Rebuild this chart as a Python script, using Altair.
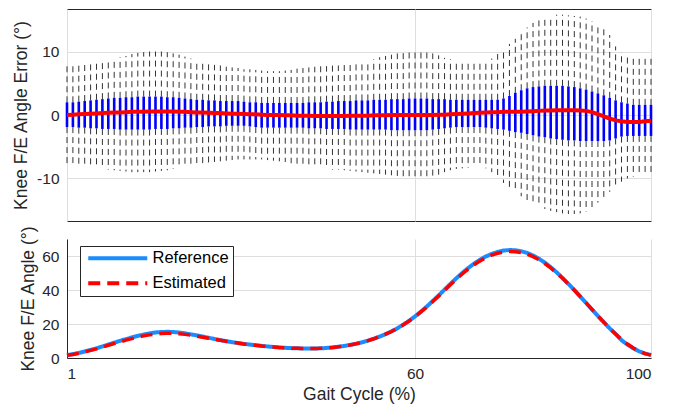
import altair as alt
import pandas as pd

gait_cycle = list(range(1, 101))

err_median = [0.0, 0.05, 0.1, 0.15, 0.2, 0.25, 0.3, 0.35, 0.4, 0.4,
              0.45, 0.5, 0.5, 0.5, 0.55, 0.55, 0.55, 0.55, 0.55, 0.5,
              0.5, 0.45, 0.4, 0.4, 0.35, 0.3, 0.3, 0.25, 0.2, 0.2,
              0.15, 0.1, 0.1, 0.05, 0.0, 0.0, 0.0, -0.05, -0.05, -0.1,
              -0.1, -0.1, -0.15, -0.15, -0.15, -0.15, -0.15, -0.15, -0.1, -0.1,
              -0.1, -0.1, -0.05, -0.05, -0.05, 0.0, 0.0, 0.0, 0.0, 0.0,
              0.0, 0.0, 0.0, 0.05, 0.05, 0.1, 0.15, 0.2, 0.25, 0.3,
              0.35, 0.4, 0.45, 0.45, 0.5, 0.5, 0.5, 0.5, 0.55, 0.6,
              0.65, 0.7, 0.7, 0.75, 0.75, 0.75, 0.75, 0.7, 0.65, 0.45,
              0.15, -0.2, -0.55, -0.85, -1.0, -1.1, -1.1, -1.1, -1.0, -0.9]

err_q3 = [2.0, 2.0, 2.1, 2.2, 2.3, 2.4, 2.5, 2.6, 2.7, 2.7,
          2.8, 2.8, 2.9, 2.9, 2.9, 2.9, 2.9, 2.8, 2.8, 2.7,
          2.6, 2.5, 2.4, 2.4, 2.3, 2.3, 2.2, 2.2, 2.2, 2.2,
          2.1, 2.0, 2.0, 1.9, 1.9, 1.9, 1.9, 1.9, 1.9, 1.9,
          1.9, 2.0, 2.0, 2.0, 2.1, 2.1, 2.2, 2.2, 2.2, 2.3,
          2.3, 2.3, 2.4, 2.4, 2.4, 2.5, 2.5, 2.5, 2.6, 2.6,
          2.6, 2.6, 2.5, 2.5, 2.5, 2.4, 2.4, 2.4, 2.4, 2.4,
          2.4, 2.4, 2.4, 2.4, 2.6, 3.0, 3.5, 3.9, 4.2, 4.4,
          4.5, 4.6, 4.6, 4.6, 4.6, 4.5, 4.4, 4.2, 4.0, 3.7,
          3.4, 3.1, 2.7, 2.3, 2.0, 1.8, 1.6, 1.6, 1.6, 1.6]

err_q1 = [-1.9, -1.9, -2.0, -2.0, -2.1, -2.1, -2.2, -2.2, -2.2, -2.3,
          -2.3, -2.3, -2.3, -2.3, -2.3, -2.2, -2.2, -2.2, -2.1, -2.1,
          -2.0, -2.0, -1.9, -1.9, -1.8, -1.8, -1.8, -1.7, -1.7, -1.7,
          -1.7, -1.8, -1.9, -2.0, -2.0, -2.0, -2.0, -2.0, -2.0, -2.0,
          -2.0, -2.1, -2.1, -2.1, -2.2, -2.2, -2.2, -2.2, -2.3, -2.3,
          -2.3, -2.3, -2.3, -2.3, -2.3, -2.4, -2.4, -2.4, -2.4, -2.4,
          -2.4, -2.4, -2.3, -2.2, -2.1, -2.0, -1.9, -1.9, -1.9, -1.9,
          -1.9, -2.0, -2.1, -2.2, -2.3, -2.5, -2.7, -2.8, -3.0, -3.2,
          -3.4, -3.5, -3.7, -3.8, -3.9, -4.0, -4.0, -4.1, -4.1, -4.1,
          -4.1, -4.1, -4.0, -3.7, -3.4, -3.3, -3.3, -3.3, -3.3, -3.3]

err_hi = [7.7, 7.7, 7.8, 7.9, 8.0, 8.1, 8.3, 8.5, 8.8, 9.1,
          9.3, 9.6, 9.8, 9.9, 10.0, 10.0, 10.0, 9.9, 9.7, 9.5,
          9.2, 8.9, 8.6, 8.3, 8.1, 7.9, 7.8, 7.6, 7.5, 7.4,
          7.2, 7.2, 7.1, 7.0, 6.9, 6.9, 6.9, 7.0, 7.1, 7.3,
          7.4, 7.5, 7.6, 7.7, 7.7, 7.8, 7.8, 7.9, 8.0, 8.2,
          8.4, 8.6, 8.8, 9.1, 9.3, 9.5, 9.7, 9.9, 10.0, 10.1,
          10.1, 10.0, 9.7, 9.4, 9.0, 8.8, 8.7, 8.6, 8.5, 8.4,
          8.3, 8.4, 8.9, 9.6, 10.4, 11.2, 12.0, 12.9, 13.8, 14.5,
          15.1, 15.4, 15.6, 15.8, 15.8, 15.7, 15.6, 15.5, 15.2, 14.8,
          14.2, 13.5, 12.6, 10.8, 9.9, 9.3, 9.1, 9.0, 9.1, 9.2]

err_lo = [-8.0, -8.0, -8.1, -8.2, -8.3, -8.4, -8.5, -8.6, -8.7, -8.8,
          -8.9, -9.0, -9.0, -9.0, -9.0, -8.9, -8.8, -8.7, -8.5, -8.3,
          -8.1, -7.9, -7.7, -7.6, -7.5, -7.4, -7.3, -7.2, -7.1, -7.0,
          -7.0, -7.0, -7.0, -7.0, -7.1, -7.2, -7.3, -7.4, -7.6, -7.8,
          -8.0, -8.2, -8.3, -8.4, -8.5, -8.6, -8.6, -8.7, -8.8, -8.9,
          -9.0, -9.1, -9.2, -9.3, -9.4, -9.5, -9.6, -9.7, -9.8, -9.9,
          -10.0, -9.9, -9.7, -9.4, -9.0, -8.7, -8.5, -8.4, -8.3, -8.2,
          -8.2, -8.4, -9.0, -9.8, -10.7, -11.4, -12.1, -12.8, -13.4, -13.9,
          -14.4, -14.8, -15.1, -15.3, -15.5, -15.6, -15.6, -15.5, -15.2, -14.6,
          -13.8, -12.9, -12.1, -11.2, -10.5, -10.0, -9.7, -9.5, -9.3, -9.2]

ref_angle = [1.7, 2.3, 3.0, 3.8, 4.7, 5.7, 6.8, 7.9, 9.0, 10.1,
             11.1, 12.1, 13.0, 13.8, 14.5, 15.0, 15.3, 15.4, 15.3, 15.0,
             14.5, 13.9, 13.3, 12.6, 11.9, 11.2, 10.5, 9.9, 9.3, 8.8,
             8.3, 7.9, 7.5, 7.1, 6.8, 6.5, 6.2, 6.0, 5.8, 5.7,
             5.6, 5.6, 5.6, 5.7, 5.9, 6.2, 6.6, 7.1, 7.7, 8.4,
             9.2, 10.2, 11.3, 12.6, 14.0, 15.6, 17.5, 19.6, 21.9, 24.5,
             27.3, 30.3, 33.5, 36.8, 40.2, 43.6, 46.9, 50.0, 52.9, 55.5,
             57.8, 59.7, 61.2, 62.4, 63.2, 63.5, 63.4, 62.8, 61.8, 60.3,
             58.4, 56.1, 53.4, 50.4, 47.1, 43.6, 40.0, 36.2, 32.4, 28.5,
             24.7, 21.0, 17.4, 14.1, 10.5, 7.9, 5.7, 3.9, 2.6, 1.8]

est_angle = [1.6, 2.1, 2.8, 3.6, 4.5, 5.4, 6.4, 7.5, 8.5, 9.5,
             10.5, 11.4, 12.3, 13.0, 13.6, 14.1, 14.4, 14.5, 14.5, 14.3,
             13.9, 13.4, 12.8, 12.2, 11.6, 11.0, 10.4, 9.8, 9.3, 8.8,
             8.3, 7.9, 7.5, 7.1, 6.8, 6.5, 6.2, 6.0, 5.8, 5.7,
             5.6, 5.6, 5.6, 5.7, 5.9, 6.2, 6.6, 7.1, 7.7, 8.4,
             9.2, 10.2, 11.3, 12.6, 14.0, 15.6, 17.4, 19.5, 21.8, 24.3,
             27.1, 30.0, 33.2, 36.4, 39.8, 43.1, 46.4, 49.5, 52.3, 54.9,
             57.1, 59.0, 60.5, 61.6, 62.3, 62.6, 62.5, 62.0, 61.0, 59.6,
             57.8, 55.6, 53.0, 50.1, 46.9, 43.5, 39.9, 36.2, 32.4, 28.6,
             24.8, 21.1, 17.5, 14.1, 10.9, 8.2, 5.9, 4.0, 2.6, 1.7]

x_ticks = [1, 60, 100]
err_ticks = [-10, 0, 10]
angle_ticks = [0, 20, 40, 60]
series_names = ["Reference", "Estimated"]
series_colors = ["#1a8cff", "#ff0000"]

FONT = "Liberation Sans"
TXT = "#262626"
GRID = "#dedede"
W = 584

box_df = pd.DataFrame({"gait": gait_cycle, "median": err_median, "q1": err_q1,
                       "q3": err_q3, "lo": err_lo, "hi": err_hi})
angle_df = pd.DataFrame({"gait": gait_cycle * 2,
                         "angle": ref_angle + est_angle,
                         "series": [series_names[0]] * 100 + [series_names[1]] * 100})

xscale = alt.Scale(domain=[1, 100], nice=False, zero=False)
yscale_top = alt.Scale(domain=[-16.7, 16.7], nice=False, zero=False)

x_top_axis = alt.Axis(values=x_ticks, labels=False, ticks=False, tickSize=0,
                      domain=False, grid=True, title=None)
y_top_axis = alt.Axis(values=err_ticks, title="Knee F/E Angle Error (°)", grid=True,
                      ticks=False, tickSize=0, domain=False, labelPadding=8,
                      titlePadding=6, labelExpr="toString(datum.value)")


def xt():
    return alt.X("gait:Q", scale=xscale, axis=x_top_axis)


def yt(field):
    return alt.Y(field, scale=yscale_top, axis=y_top_axis)


base_top = alt.Chart(box_df)

upper = base_top.mark_rule(color="#333333", strokeWidth=1, strokeDash=[6, 4]).encode(
    x=xt(), y=yt("q3:Q"), y2="hi:Q")
lower = base_top.mark_rule(color="#333333", strokeWidth=1, strokeDash=[6, 4]).encode(
    x=xt(), y=yt("q1:Q"), y2="lo:Q")
box = base_top.mark_rule(color="#0000ff", strokeWidth=2.6).encode(
    x=xt(), y=yt("q1:Q"), y2="q3:Q")
med = base_top.mark_line(color="#ff0000", strokeWidth=4).encode(
    x=xt(), y=yt("median:Q"))

top = alt.layer(upper, lower, box, med).properties(
    width=W, height=212,
    view=alt.ViewBackground(stroke=TXT, strokeWidth=1))

color_scale = alt.Scale(domain=series_names, range=series_colors)
dash_scale = alt.Scale(domain=series_names, range=[[1, 0], [12, 7]])
leg = alt.Legend(title=None, orient="none", legendX=13, legendY=7,
                 symbolType="M-0.8,0H11.0", symbolSize=100, symbolStrokeWidth=4,
                 labelFont=FONT, labelFontSize=16.5, labelColor="#000000",
                 fillColor="white", strokeColor=TXT, padding=4, rowPadding=8,
                 labelOffset=52, labelLimit=300)

x_bot_axis = alt.Axis(values=x_ticks, title="Gait Cycle (%)", grid=True,
                      ticks=False, tickSize=0, domain=True, labelPadding=8,
                      titlePadding=4)
y_bot_axis = alt.Axis(values=angle_ticks, title="Knee F/E Angle (°)", grid=True,
                      ticks=False, tickSize=0, domain=True, labelPadding=8,
                      titlePadding=4)


def line_enc(ch):
    return ch.encode(
        x=alt.X("gait:Q", scale=xscale, axis=x_bot_axis),
        y=alt.Y("angle:Q", scale=alt.Scale(domain=[0, 70], nice=False), axis=y_bot_axis),
        color=alt.Color("series:N", scale=color_scale, legend=leg),
        strokeDash=alt.StrokeDash("series:N", scale=dash_scale, legend=leg))


base_bot = alt.Chart(angle_df)
ref_line = line_enc(base_bot.transform_filter(alt.datum.series == series_names[0])
                    .mark_line(strokeWidth=4))
est_line = line_enc(base_bot.transform_filter(alt.datum.series == series_names[1])
                    .mark_line(strokeWidth=3.5))

bottom = alt.layer(ref_line, est_line).properties(
    width=W, height=119,
    view=alt.ViewBackground(stroke="transparent"))

chart = alt.vconcat(top, bottom, spacing=18, bounds="flush").resolve_scale(
    color="independent", strokeDash="independent"
).properties(
    padding={"left": 4, "top": 0, "right": 5, "bottom": 0},
    background="white"
).configure_view(stroke="transparent").configure_axis(
    labelFont=FONT, labelFontSize=15.5, labelColor=TXT,
    titleFont=FONT, titleFontSize=17.5, titleFontWeight="normal", titleColor=TXT,
    domainColor=TXT, gridColor=GRID, gridWidth=1
)

chart.save("out.html", embed_options={"renderer": "svg", "actions": False})
